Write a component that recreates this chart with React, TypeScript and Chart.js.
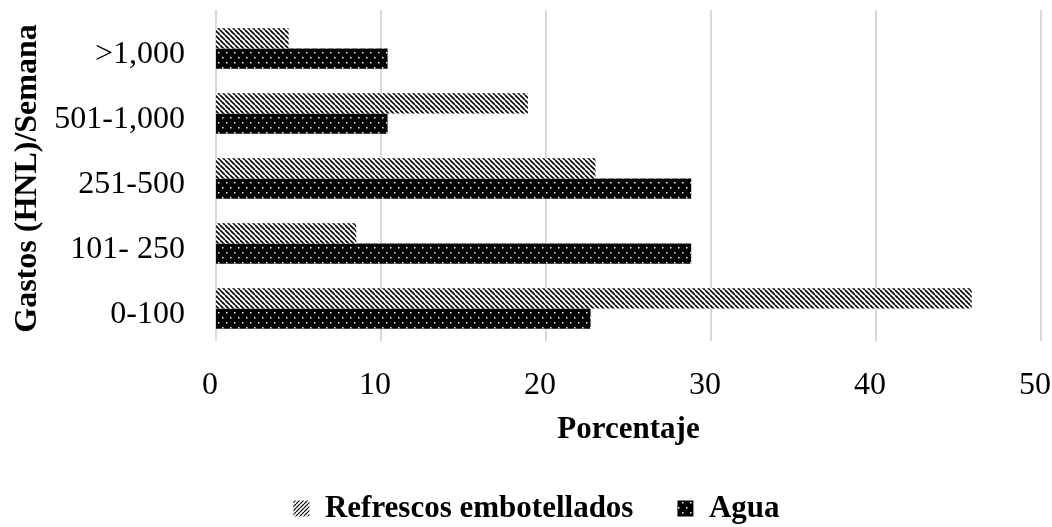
import { useEffect, useRef } from 'react';
import { Chart, registerables } from 'chart.js';

Chart.register(...registerables);

const categories = ['>1,000', '501-1,000', '251-500', '101- 250', '0-100'];
const refrescos = [4.4, 18.9, 23.0, 8.5, 45.8];
const agua = [10.4, 10.4, 28.8, 28.8, 22.7];
const seriesNames = ['Refrescos embotellados', 'Agua'];
const xMin = 0;
const xMax = 50;
const xStep = 10;
const yTitle = 'Gastos (HNL)/Semana';
const xTitle = 'Porcentaje';

function makeHatch(dir: 'back' | 'fwd', size: number, lw: number) {
  const c = document.createElement('canvas');
  c.width = size;
  c.height = size;
  const g = c.getContext('2d')!;
  g.fillStyle = '#ffffff';
  g.fillRect(0, 0, size, size);
  g.strokeStyle = '#000000';
  g.lineWidth = lw;
  g.beginPath();
  for (const o of [-size, 0, size]) {
    if (dir === 'back') {
      g.moveTo(o, 0);
      g.lineTo(o + size, size);
    } else {
      g.moveTo(o, size);
      g.lineTo(o + size, 0);
    }
  }
  g.stroke();
  return g.createPattern(c, 'repeat')!;
}

function makeDots() {
  const c = document.createElement('canvas');
  c.width = 8;
  c.height = 10;
  const g = c.getContext('2d')!;
  g.fillStyle = '#000000';
  g.fillRect(0, 0, 8, 10);
  g.fillStyle = '#f0f0f0';
  g.fillRect(2, 2, 1.5, 1.5);
  g.fillRect(6, 7, 1.5, 1.5);
  return g.createPattern(c, 'repeat')!;
}

const PAD_LEFT = 32;

export default function App() {
  const ref = useRef<HTMLCanvasElement | null>(null);

  useEffect(() => {
    const canvas = ref.current;
    if (!canvas) return;
    const hatchBars = makeHatch('back', 5, 1.6);
    const hatchLegend = makeHatch('fwd', 4, 1.2);
    const dotFill = makeDots();

    const backGrid = {
      id: 'backGrid',
      beforeDatasetsDraw(chart: any) {
        const x = chart.scales.x;
        const { top, bottom } = chart.chartArea;
        const ctx = chart.ctx;
        ctx.save();
        ctx.strokeStyle = '#d9d9d9';
        ctx.lineWidth = 2;
        x.ticks.forEach((t: any) => {
          const px = Math.round(x.getPixelForValue(t.value));
          ctx.beginPath();
          ctx.moveTo(px, top - 6);
          ctx.lineTo(px, bottom);
          ctx.stroke();
        });
        ctx.restore();
      },
    };

    const zeroPad = (s: any) => {
      s.paddingLeft = 0;
      s.paddingRight = 0;
      s.paddingTop = 0;
      s.paddingBottom = 0;
    };

    Chart.defaults.color = '#000000';
    const chart = new Chart(canvas, {
      type: 'bar',
      data: {
        labels: categories,
        datasets: [
          {
            label: seriesNames[0],
            data: refrescos,
            backgroundColor: hatchBars,
            borderWidth: 0,
          },
          {
            label: seriesNames[1],
            data: agua,
            backgroundColor: dotFill,
            borderWidth: 0,
          },
        ],
      },
      plugins: [backGrid],
      options: {
        indexAxis: 'y',
        animation: false,
        responsive: false,
        layout: { padding: { left: PAD_LEFT, right: 11, top: 16, bottom: -7 } },
        datasets: { bar: { categoryPercentage: 0.62, barPercentage: 1 } },
        scales: {
          x: {
            min: xMin,
            max: xMax,
            ticks: {
              stepSize: xStep,
              padding: 25,
              labelOffset: -6,
              font: { family: 'Liberation Serif', size: 32 },
              color: '#000',
            },
            grid: { display: false, drawTicks: false },
            border: { display: false },
            title: {
              display: true,
              text: xTitle,
              font: { family: 'Liberation Serif', size: 31, weight: 'bold' },
              color: '#000',
              padding: 0,
            },
            afterFit: (s: any) => {
              s.height = 108;
              zeroPad(s);
            },
          },
          y: {
            ticks: {
              padding: 31,
              labelOffset: 6,
              font: { family: 'Liberation Serif', size: 32 },
              color: '#000',
            },
            grid: { display: false, drawTicks: false },
            border: { display: false },
            title: {
              display: true,
              text: yTitle,
              font: { family: 'Liberation Serif', size: 32, weight: 'bold' },
              color: '#000',
              padding: { top: 9 - PAD_LEFT, bottom: 0 },
            },
            afterFit: (s: any) => {
              s.width = 216 - PAD_LEFT;
              zeroPad(s);
            },
          },
        },
        plugins: {
          tooltip: { enabled: false },
          legend: {
            position: 'bottom',
            labels: {
              boxWidth: 16,
              boxHeight: 16,
              padding: 44,
              font: { family: 'Liberation Serif', size: 31, weight: 'bold' },
              color: '#000',
              generateLabels: (ch: any) => {
                const items = Chart.defaults.plugins.legend.labels.generateLabels(ch);
                items.forEach((it: any) => {
                  it.lineWidth = 0;
                });
                if (items[0]) items[0].fillStyle = hatchLegend;
                return items;
              },
            },
          },
        },
      },
    });
    return () => chart.destroy();
  }, []);

  return (
    <div style={{ position: 'absolute', left: 0, top: 0, width: 1052, height: 527 }}>
      <canvas ref={ref} width={1052} height={527} />
    </div>
  );
}
